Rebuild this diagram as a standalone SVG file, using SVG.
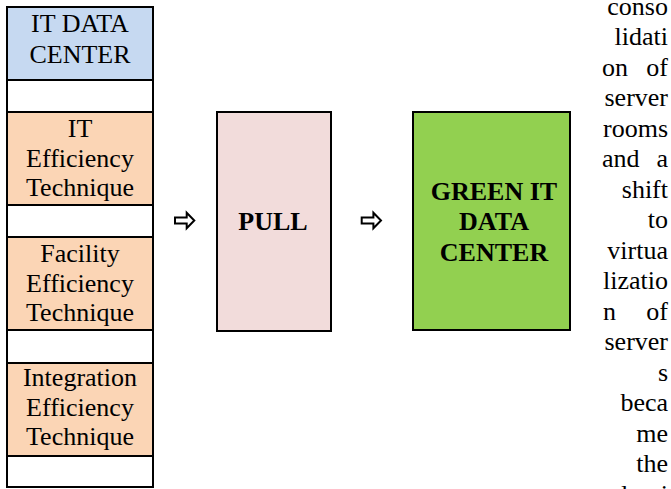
<svg xmlns="http://www.w3.org/2000/svg" width="671" height="489" viewBox="0 0 671 489">
  <style>
    .cell { stroke: #000; stroke-width: 2; }
    .blue { fill: #C6D9F1; }
    .peach { fill: #FBD5B5; }
    .blank { fill: #FFFFFF; }
    .box { stroke: #000; stroke-width: 2; }
    .lbl { font-family: "Liberation Serif", "Times New Roman", serif; font-size: 26px; fill: #000; text-anchor: middle; }
    .bold { font-weight: bold; }
    .body { font-family: "Liberation Serif", "Times New Roman", serif; font-size: 26px; fill: #000; }
    .r { text-anchor: end; }
    .arrow { fill: #FFFFFF; stroke: #000; stroke-width: 2; stroke-linejoin: miter; }
  </style>
  <defs>
    <!-- outlined block arrow, drawn at the origin and moved into place -->
    <polygon id="blockArrow" points="0,-3 11.7,-3 11.7,-7.8 19.3,0 11.7,7.8 11.7,3 0,3"/>
  </defs>

  <rect width="671" height="489" fill="#FFFFFF"/>

  <!-- left column: stack of cells -->
  <g id="it-data-center">
    <rect class="cell blue" x="7" y="7" width="146" height="73"/>
    <text class="lbl" x="80" y="32">IT DATA</text>
    <text class="lbl" x="80" y="63">CENTER</text>
  </g>
  <g id="spacer-1">
    <rect class="cell blank" x="7" y="80" width="146" height="32"/>
  </g>
  <g id="it-efficiency">
    <rect class="cell peach" x="7" y="112" width="146" height="93"/>
    <text class="lbl" x="80" y="137">IT</text>
    <text class="lbl" x="80" y="167">Efficiency</text>
    <text class="lbl" x="80" y="196">Technique</text>
  </g>
  <g id="spacer-2">
    <rect class="cell blank" x="7" y="205" width="146" height="32"/>
  </g>
  <g id="facility-efficiency">
    <rect class="cell peach" x="7" y="237" width="146" height="93"/>
    <text class="lbl" x="80" y="262">Facility</text>
    <text class="lbl" x="80" y="292">Efficiency</text>
    <text class="lbl" x="80" y="321">Technique</text>
  </g>
  <g id="spacer-3">
    <rect class="cell blank" x="7" y="330" width="146" height="33"/>
  </g>
  <g id="integration-efficiency">
    <rect class="cell peach" x="7" y="363" width="146" height="93"/>
    <text class="lbl" x="80" y="386">Integration</text>
    <text class="lbl" x="80" y="416">Efficiency</text>
    <text class="lbl" x="80" y="445">Technique</text>
  </g>
  <g id="spacer-4">
    <rect class="cell blank" x="7" y="456" width="146" height="31"/>
  </g>

  <!-- middle stage -->
  <g id="pull">
    <rect class="box" x="217" y="112" width="114" height="219" fill="#F2DCDB"/>
    <text class="lbl bold" x="273" y="230">PULL</text>
  </g>

  <!-- result -->
  <g id="green-it-data-center">
    <rect class="box" x="413" y="112" width="157" height="218" fill="#92D050"/>
    <text class="lbl bold" x="494" y="200">GREEN IT</text>
    <text class="lbl bold" x="494" y="230">DATA</text>
    <text class="lbl bold" x="494" y="261">CENTER</text>
  </g>

  <!-- arrows between stages -->
  <g id="connectors">
    <use href="#blockArrow" class="arrow" transform="translate(175,220.5)"/>
    <use href="#blockArrow" class="arrow" transform="translate(361.7,220.5)"/>
  </g>

  <!-- narrow paragraph on the right -->
  <g id="side-text" class="body">
    <text class="r" x="668" y="14.5">conso</text>
    <text class="r" x="668" y="45">lidati</text>
    <text x="602" y="75.5">on</text><text class="r" x="668" y="75.5">of</text>
    <text class="r" x="668" y="106">server</text>
    <text class="r" x="668" y="136.5">rooms</text>
    <text x="602" y="167">and</text><text class="r" x="668" y="167">a</text>
    <text class="r" x="668" y="197.5">shift</text>
    <text class="r" x="668" y="228">to</text>
    <text class="r" x="668" y="258.5">virtua</text>
    <text class="r" x="668" y="289">lizatio</text>
    <text x="603" y="319.5">n</text><text class="r" x="668" y="319.5">of</text>
    <text class="r" x="668" y="350">server</text>
    <text class="r" x="668" y="380.5">s</text>
    <text class="r" x="668" y="411">beca</text>
    <text class="r" x="668" y="441.5">me</text>
    <text class="r" x="668" y="472">the</text>
    <text class="r" x="668" y="502.5">domi</text>
  </g>
</svg>
